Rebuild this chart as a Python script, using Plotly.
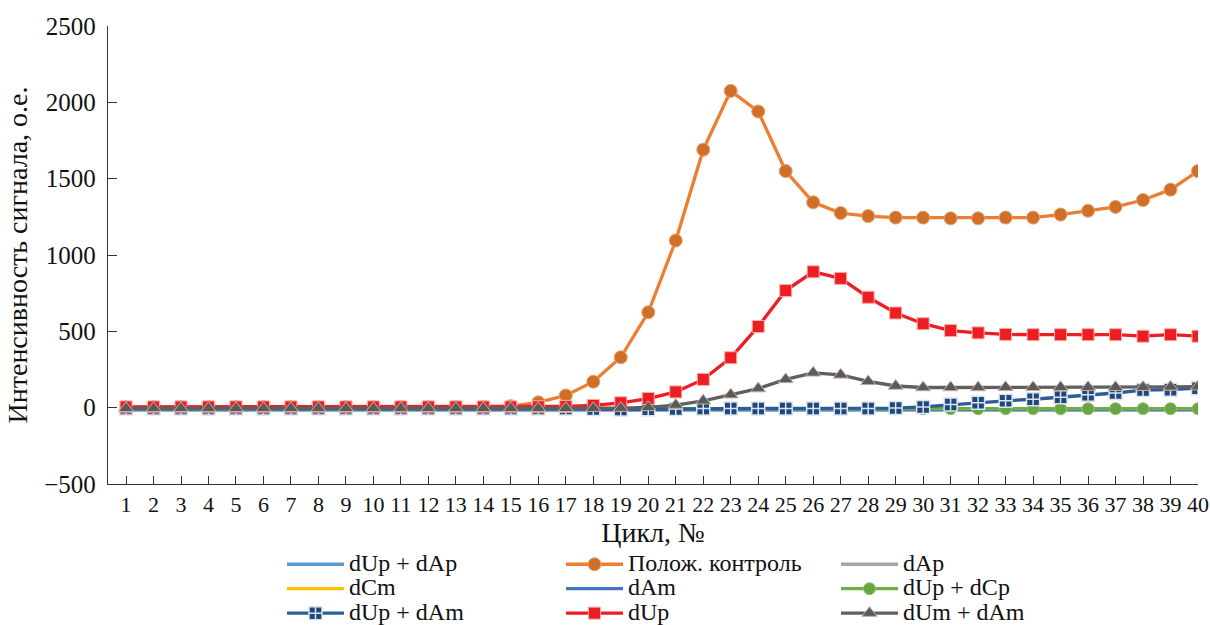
import plotly.graph_objects as go

cycles = list(range(1, 41))

dUp_dAp = [-12] * 40
pos_control = [2, 2, 2, 2, 2, 2, 2, 2, 2, 2, 2, 2, 2, 3, 10, 35, 80, 170, 330, 625,
               1095, 1690, 2075, 1940, 1550, 1345, 1275, 1255, 1245, 1245,
               1240, 1240, 1245, 1245, 1265, 1290, 1315, 1360, 1428, 1550]
dAp = [-8] * 40
dCm = [-10] * 40
dAm = [-15] * 40
dUp_dCp = [-7] * 40
dUp_dAm = [-6, -6, -6, -6, -6, -6, -6, -6, -6, -6, -6, -6, -6, -6, -6, -6, -6, -8, -12, -10,
           -8, -5, -5, -5, -5, -5, -5, -5, -3, 5, 20, 32, 45, 55, 68, 85, 96, 115, 118, 128]
dUp = [5, 5, 5, 5, 5, 5, 5, 5, 5, 5, 5, 5, 5, 5, 5, 6, 8, 15, 32, 60,
       103, 185, 327, 532, 767, 890, 847, 723, 620, 550,
       505, 490, 480, 478, 478, 478, 478, 468, 478, 468]
dUm_dAm = [-4, -4, -4, -4, -4, -4, -4, -4, -4, -4, -4, -4, -4, -4, -4, -4, -4, -4, -3, 2,
           17, 45, 85, 125, 185, 228, 215, 172, 142, 132,
           132, 132, 133, 133, 133, 134, 134, 134, 136, 138]

FONT = "Liberation Serif, Times New Roman, Times, serif"
LEG_TXT = 24

def nm(s):
    return f'<span style="font-size:{LEG_TXT}px">{s}</span>'

series = [
    ("dUp + dAp", dUp_dAp, "#5B9BD5", None, "legend"),
    ("Полож. контроль", pos_control, "#ED7D31",
     dict(symbol="circle", size=13, color="#CF6F28", line=dict(color="#E8A070", width=1)), "legend2"),
    ("dAp", dAp, "#A5A5A5", None, "legend3"),
    ("dCm", dCm, "#FFC000", None, "legend"),
    ("dAm", dAm, "#4472C4", None, "legend2"),
    ("dUp + dCp", dUp_dCp, "#70AD47",
     dict(symbol="circle", size=12, color="#6AA443", line=dict(color="#8CC46A", width=1)), "legend3"),
    ("dUp + dAm", dUp_dAm, "#2F5C97",
     dict(symbol="square-cross", size=13, color="#1F4778", line=dict(color="#D8E4F2", width=1.5)), "legend"),
    ("dUp", dUp, "#EE1C25",
     dict(symbol="square", size=12, color="#EE1C25", line=dict(color="#F6B09A", width=1)), "legend2"),
    ("dUm + dAm", dUm_dAm, "#5F5F5F",
     dict(symbol="triangle-up", size=13, color="#5A5A5A", line=dict(color="#C8B0A8", width=1)), "legend3"),
]

fig = go.Figure()
for name, data, lc, mk, lg in series:
    kw = dict(x=cycles, y=data, name=nm(name), legend=lg,
              line=dict(color=lc, width=3.3))
    if mk is None:
        kw["mode"] = "lines"
    else:
        kw["mode"] = "lines+markers"
        kw["marker"] = mk
    fig.add_trace(go.Scatter(**kw))

L, R, T, B = 108, 12, 26, 141
W, H = 1210, 625
pw = W - L - R
ph = H - T - B

def px_x(p):
    return (p - L) / pw

def px_y(p):
    return (H - B - p) / ph

legend_common = dict(
    orientation="v", xanchor="left", yanchor="top",
    font=dict(family=FONT, size=16.5, color="#111"),
    bgcolor="rgba(0,0,0,0)", itemwidth=57, tracegroupgap=0,
    itemclick=False, itemdoubleclick=False,
)
leg_top = px_y(547)

fig.update_layout(
    width=W, height=H,
    margin=dict(l=L, r=R, t=T, b=B, autoexpand=False),
    paper_bgcolor="white", plot_bgcolor="white",
    font=dict(family=FONT, color="#111"),
    showlegend=True,
    legend=dict(legend_common, x=px_x(282), y=leg_top),
    legend2=dict(legend_common, x=px_x(561), y=leg_top),
    legend3=dict(legend_common, x=px_x(836), y=leg_top),
    xaxis=dict(
        range=[0.344, 40], tickmode="array", tickvals=cycles,
        ticktext=[str(c) for c in cycles],
        ticks="inside", ticklen=8, tickcolor="#333", tickwidth=1.2,
        showline=True, linecolor="#333", linewidth=1.3,
        showgrid=False, zeroline=False, automargin=False,
        tickfont=dict(family=FONT, size=22, color="#111"),
        title=dict(text="Цикл, №", font=dict(family=FONT, size=28, color="#111"), standoff=4),
    ),
    yaxis=dict(
        range=[-500, 2500], dtick=500, tick0=0,
        ticks="inside", ticklen=9, tickcolor="#333", tickwidth=1.2,
        showline=True, linecolor="#333", linewidth=1.3,
        showgrid=False, zeroline=False, automargin=False,
        ticklabelstandoff=6,
        tickfont=dict(family=FONT, size=25, color="#111"),
        title=dict(text="Интенсивность сигнала, о.е.", font=dict(family=FONT, size=28, color="#111"), standoff=8),
    ),
)

fig.write_html(
    "out.html",
    config={"displayModeBar": False},
    post_script="document.body.style.margin='0';document.body.style.overflow='hidden';",
)
